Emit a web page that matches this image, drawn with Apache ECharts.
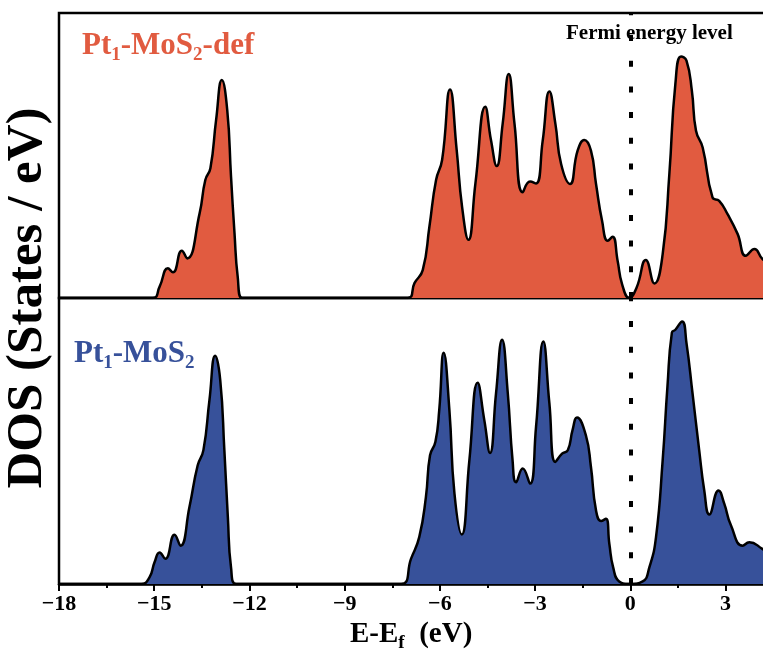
<!DOCTYPE html>
<html>
<head>
<meta charset="utf-8">
<script src="https://cdn.jsdelivr.net/npm/echarts@6/dist/echarts.min.js"></script>
<style>html,body{margin:0;padding:0;background:#fff;overflow:hidden}#c{width:792px;height:662px}</style>
</head>
<body>
<div id="c"></div>
<script>
// Energy (eV) and DOS (arbitrary units, panel height = 10)
var defEnergy = [-18,-15.05,-14.83,-14.57,-14.41,-14.13,-13.96,-13.57,-13.39,-13.23,-13.05,-12.87,-12.70,-12.58,-12.47,-12.37,-12.23,
  -7.01,-6.80,-6.54,-6.33,-6.12,-5.93,-5.68,-5.47,-5.30,-5.10,-4.88,-4.57,-4.39,-4.21,-4.02,-3.83,-3.65,-3.39,-3.16,-2.97,-2.76,-2.55,-2.36,-2.18,-1.90,-1.66,-1.45,-1.24,-1.08,-0.89,-0.71,-0.56,-0.40,-0.26,-0.03,
  0.20,0.49,0.76,1.02,1.23,1.42,1.60,1.77,1.94,2.07,2.28,2.59,2.80,3.06,3.38,3.64,3.91,4.16,4.5,5.0];
var defDOS = [0,0,0.40,1.04,0.90,1.66,1.39,2.97,4.14,4.55,6.25,7.65,6.60,4.26,2.27,0.75,0,
  0,0.52,0.98,2.50,4.14,4.84,7.32,5.19,3.20,2.04,4.02,6.71,5.54,4.63,6.13,7.86,6.13,3.71,4.09,4.02,5.52,7.25,6.11,4.70,4.00,5.17,5.54,5.17,4.00,2.71,2.01,2.15,1.31,0.49,0,
  0.37,1.33,0.51,1.54,4.35,7.51,8.47,8.33,7.27,5.87,5.28,3.53,3.41,2.95,2.25,1.48,1.72,1.37,1.05,0.70];

var pristineEnergy = [-18,-15.41,-15.15,-14.99,-14.83,-14.65,-14.36,-14.17,-13.89,-13.63,-13.45,-13.26,-13.08,-12.92,-12.79,-12.68,-12.58,-12.42,
  -7.22,-6.91,-6.65,-6.44,-6.31,-6.14,-6.02,-5.88,-5.70,-5.54,-5.31,-5.07,-4.81,-4.60,-4.42,-4.23,-4.04,-3.86,-3.71,-3.60,-3.39,-3.16,-2.97,-2.74,-2.55,-2.36,-2.15,-1.97,-1.82,-1.68,-1.40,-1.24,-1.08,-0.92,-0.77,-0.66,-0.54,-0.35,-0.03,
  0.39,0.60,0.81,1.02,1.17,1.31,1.42,1.63,1.77,1.96,2.17,2.33,2.49,2.78,2.96,3.17,3.54,3.75,4.16,4.5,5.0];
var pristineDOS = [0,0,0.23,0.76,1.10,0.88,1.72,1.34,2.69,4.15,4.68,6.43,7.98,7.13,4.68,2.34,0.58,0,
  0,0.88,1.64,3.04,4.50,4.97,6.08,8.09,6.08,3.16,1.73,4.33,7.04,5.73,4.58,6.67,8.54,6.67,4.33,3.56,4.04,3.51,5.49,8.48,6.32,4.27,4.56,4.68,5.38,5.82,5.20,4.09,2.57,2.20,2.28,1.40,0.58,0.09,0,
  0.09,0.58,1.64,4.33,6.90,8.79,8.89,9.18,8.42,6.67,4.68,3.27,2.43,3.27,2.81,2.05,1.34,1.46,1.23,0.98,0.70];

var xTicks = [-18,-15,-12,-9,-6,-3,0,3];
var fermiLevel = 0;

function pairs(xs, ys){ return xs.map(function(x,i){ return [x, ys[i]]; }); }

var SERIF = '"Liberation Serif","Times New Roman",serif';
var ORANGE = '#E15B40', BLUE = '#37519A';

var chart = echarts.init(document.getElementById('c'), null, {renderer:'canvas'});

var fermiMark = {
  silent: true, symbol: 'none', label: {show:false},
  lineStyle: {color:'#000', width:4, type:[6,19.7], dashOffset:0},
  data: [{xAxis: fermiLevel}]
};

function sub(color, big, small){
  return {
    a: {fontFamily: SERIF, fontWeight:'bold', fontSize: big, color: color, lineHeight: 38},
    s: {fontFamily: SERIF, fontWeight:'bold', fontSize: small, color: color, lineHeight: small, verticalAlign:'bottom'}
  };
}

chart.setOption({
  backgroundColor: '#fff',
  animation: false,
  title: [
    {text: '{a|Pt}{s|1}{a|-MoS}{s|2}{a|-def}', left: 82, top: 27, padding: 0, textStyle: {rich: sub(ORANGE, 31, 19)}},
    {text: '{a|Pt}{s|1}{a|-MoS}{s|2}', left: 74, top: 335, padding: 0, textStyle: {rich: sub(BLUE, 31, 19)}},
    {text: 'Fermi energy level', left: 566, top: 23, padding: 0, textStyle: {fontFamily: SERIF, fontWeight:'bold', fontSize: 21, color:'#000'}},
    {text: '{a|E-E}{s|f}{a|  (eV)}', left: 350, top: 617, padding: 0, textStyle: {rich: {
      a: {fontFamily: SERIF, fontWeight:'bold', fontSize: 29, color:'#000', lineHeight: 36},
      s: {fontFamily: SERIF, fontWeight:'bold', fontSize: 19, color:'#000', lineHeight: 19, verticalAlign:'bottom'}
    }}}
  ],
  graphic: [{
    type: 'text', x: 28, y: 298, rotation: Math.PI/2,
    style: {text: 'DOS (States / eV)', fontFamily: SERIF, fontWeight:'bold', fontSize: 51, fill:'#000', align:'center', verticalAlign:'middle'}
  }],
  grid: [
    {left: 59, top: 13, height: 285, width: 730, outerBoundsMode: 'none', show: true, borderColor:'#000', borderWidth: 2.5, backgroundColor:'transparent'},
    {left: 59, top: 298, height: 286, width: 730, outerBoundsMode: 'none', show: true, borderColor:'#000', borderWidth: 2.5, backgroundColor:'transparent'}
  ],
  xAxis: [
    {type:'value', gridIndex:0, min:-18, max:5, interval:3, axisLine:{show:false}, axisTick:{show:false}, axisLabel:{show:false}, splitLine:{show:false}},
    {type:'value', gridIndex:1, min:-18, max:5, interval:3,
      axisLine:{show:true, onZero:false, lineStyle:{color:'#000', width:2.5}},
      axisTick:{show:true, inside:false, length:7, lineStyle:{color:'#000', width:2}},
      minorTick:{show:true, splitNumber:2, length:4, lineStyle:{color:'#000', width:2}},
      axisLabel:{show:true, margin:9, color:'#000', fontFamily:SERIF, fontWeight:'bold', fontSize:22,
        formatter:function(v){ return xTicks.indexOf(v) >= 0 ? String(v).replace('-', '\u2212') : ''; }},
      splitLine:{show:false}}
  ],
  yAxis: [
    {type:'value', gridIndex:0, min:0, max:10, show:false, splitLine:{show:false}},
    {type:'value', gridIndex:1, min:0, max:10, show:false, splitLine:{show:false}}
  ],
  series: [
    {type:'line', xAxisIndex:0, yAxisIndex:0, data: pairs(defEnergy, defDOS), smooth:0.5, symbol:'none',
      lineStyle:{color:'#000', width:2.5}, areaStyle:{color:ORANGE, opacity:1}, markLine: fermiMark, z:2},
    {type:'line', xAxisIndex:1, yAxisIndex:1, data: pairs(pristineEnergy, pristineDOS), smooth:0.5, symbol:'none',
      lineStyle:{color:'#000', width:2.5}, areaStyle:{color:BLUE, opacity:1}, markLine: fermiMark, z:2}
  ]
});
</script>
</body>
</html>
